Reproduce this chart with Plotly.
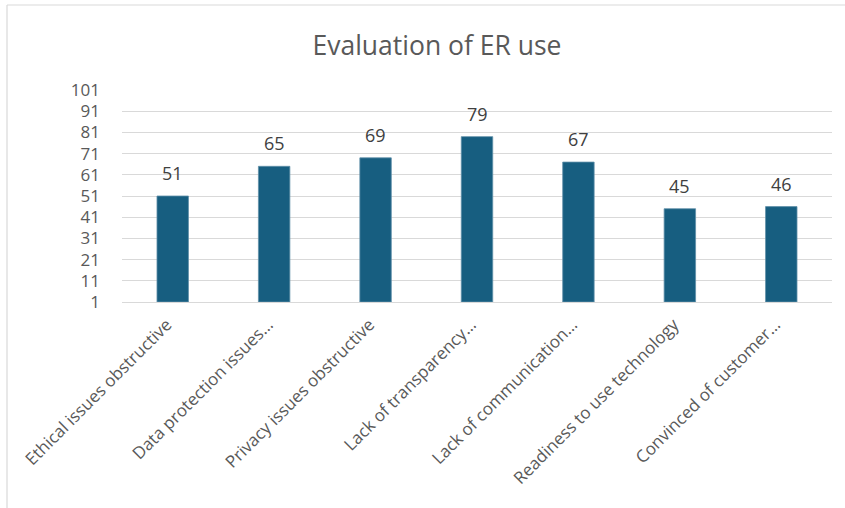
import plotly.graph_objects as go

# Survey items and their scores
categories = [
    "Ethical issues obstructive",
    "Data protection issues…",
    "Privacy issues obstructive",
    "Lack of transparency…",
    "Lack of communication…",
    "Readiness to use technology",
    "Convinced of customer…",
]
scores = [51, 65, 69, 79, 67, 45, 46]
y_ticks = [1, 11, 21, 31, 41, 51, 61, 71, 81, 91, 101]

W, H = 845, 508
ML, MR, MT, MB = 122, 13, 90, 206
PW, PH = W - ML - MR, H - MT - MB

BAR = "#175e80"
GRID = "#d9d9d9"
TEXT = "#595959"
FONT = "Open Sans"


def px_x(x):
    return (x - ML) / PW


def px_y(y):
    return (H - MB - y) / PH


fig = go.Figure(
    go.Bar(
        x=categories,
        y=[s - y_ticks[0] for s in scores],
        base=y_ticks[0],
        marker=dict(color=BAR, line=dict(color="#5f8fa8", width=0.8)),
        width=0.31,
        hoverinfo="skip",
    )
)

# value labels above each bar
for c, s in zip(categories, scores):
    fig.add_annotation(
        x=c, y=s, text=str(s), showarrow=False,
        yanchor="bottom", yshift=9,
        font=dict(family=FONT, size=18, color="#404040"),
    )

# chart frame (top and left edges)
fig.add_shape(type="line", xref="paper", yref="paper",
              x0=px_x(7), x1=px_x(W + 5), y0=px_y(5), y1=px_y(5),
              line=dict(color=GRID, width=1.2))
fig.add_shape(type="line", xref="paper", yref="paper",
              x0=px_x(7), x1=px_x(7), y0=px_y(5), y1=px_y(H + 5),
              line=dict(color=GRID, width=1.2))

fig.update_layout(
    width=W, height=H,
    margin=dict(l=ML, r=MR, t=MT, b=MB, pad=0),
    paper_bgcolor="white", plot_bgcolor="white",
    title=dict(text="Evaluation of ER use", x=437 / W, xanchor="center",
               y=1 - 46 / H, yanchor="middle",
               font=dict(family=FONT, size=26.5, color=TEXT)),
    showlegend=False,
    xaxis=dict(tickangle=-45, showgrid=False, showline=True,
               linecolor=GRID, linewidth=1.2, ticks="",
               ticklabelstandoff=5, ticklabelshift=-6,
               tickfont=dict(family=FONT, size=17, color=TEXT)),
    yaxis=dict(range=[y_ticks[0], y_ticks[-1]], tickvals=y_ticks,
               showgrid=True, gridcolor=GRID, gridwidth=1.2,
               zeroline=False, ticks="", ticklabelstandoff=21,
               tickfont=dict(family=FONT, size=17, color=TEXT)),
)

fig.write_html("out.html")
